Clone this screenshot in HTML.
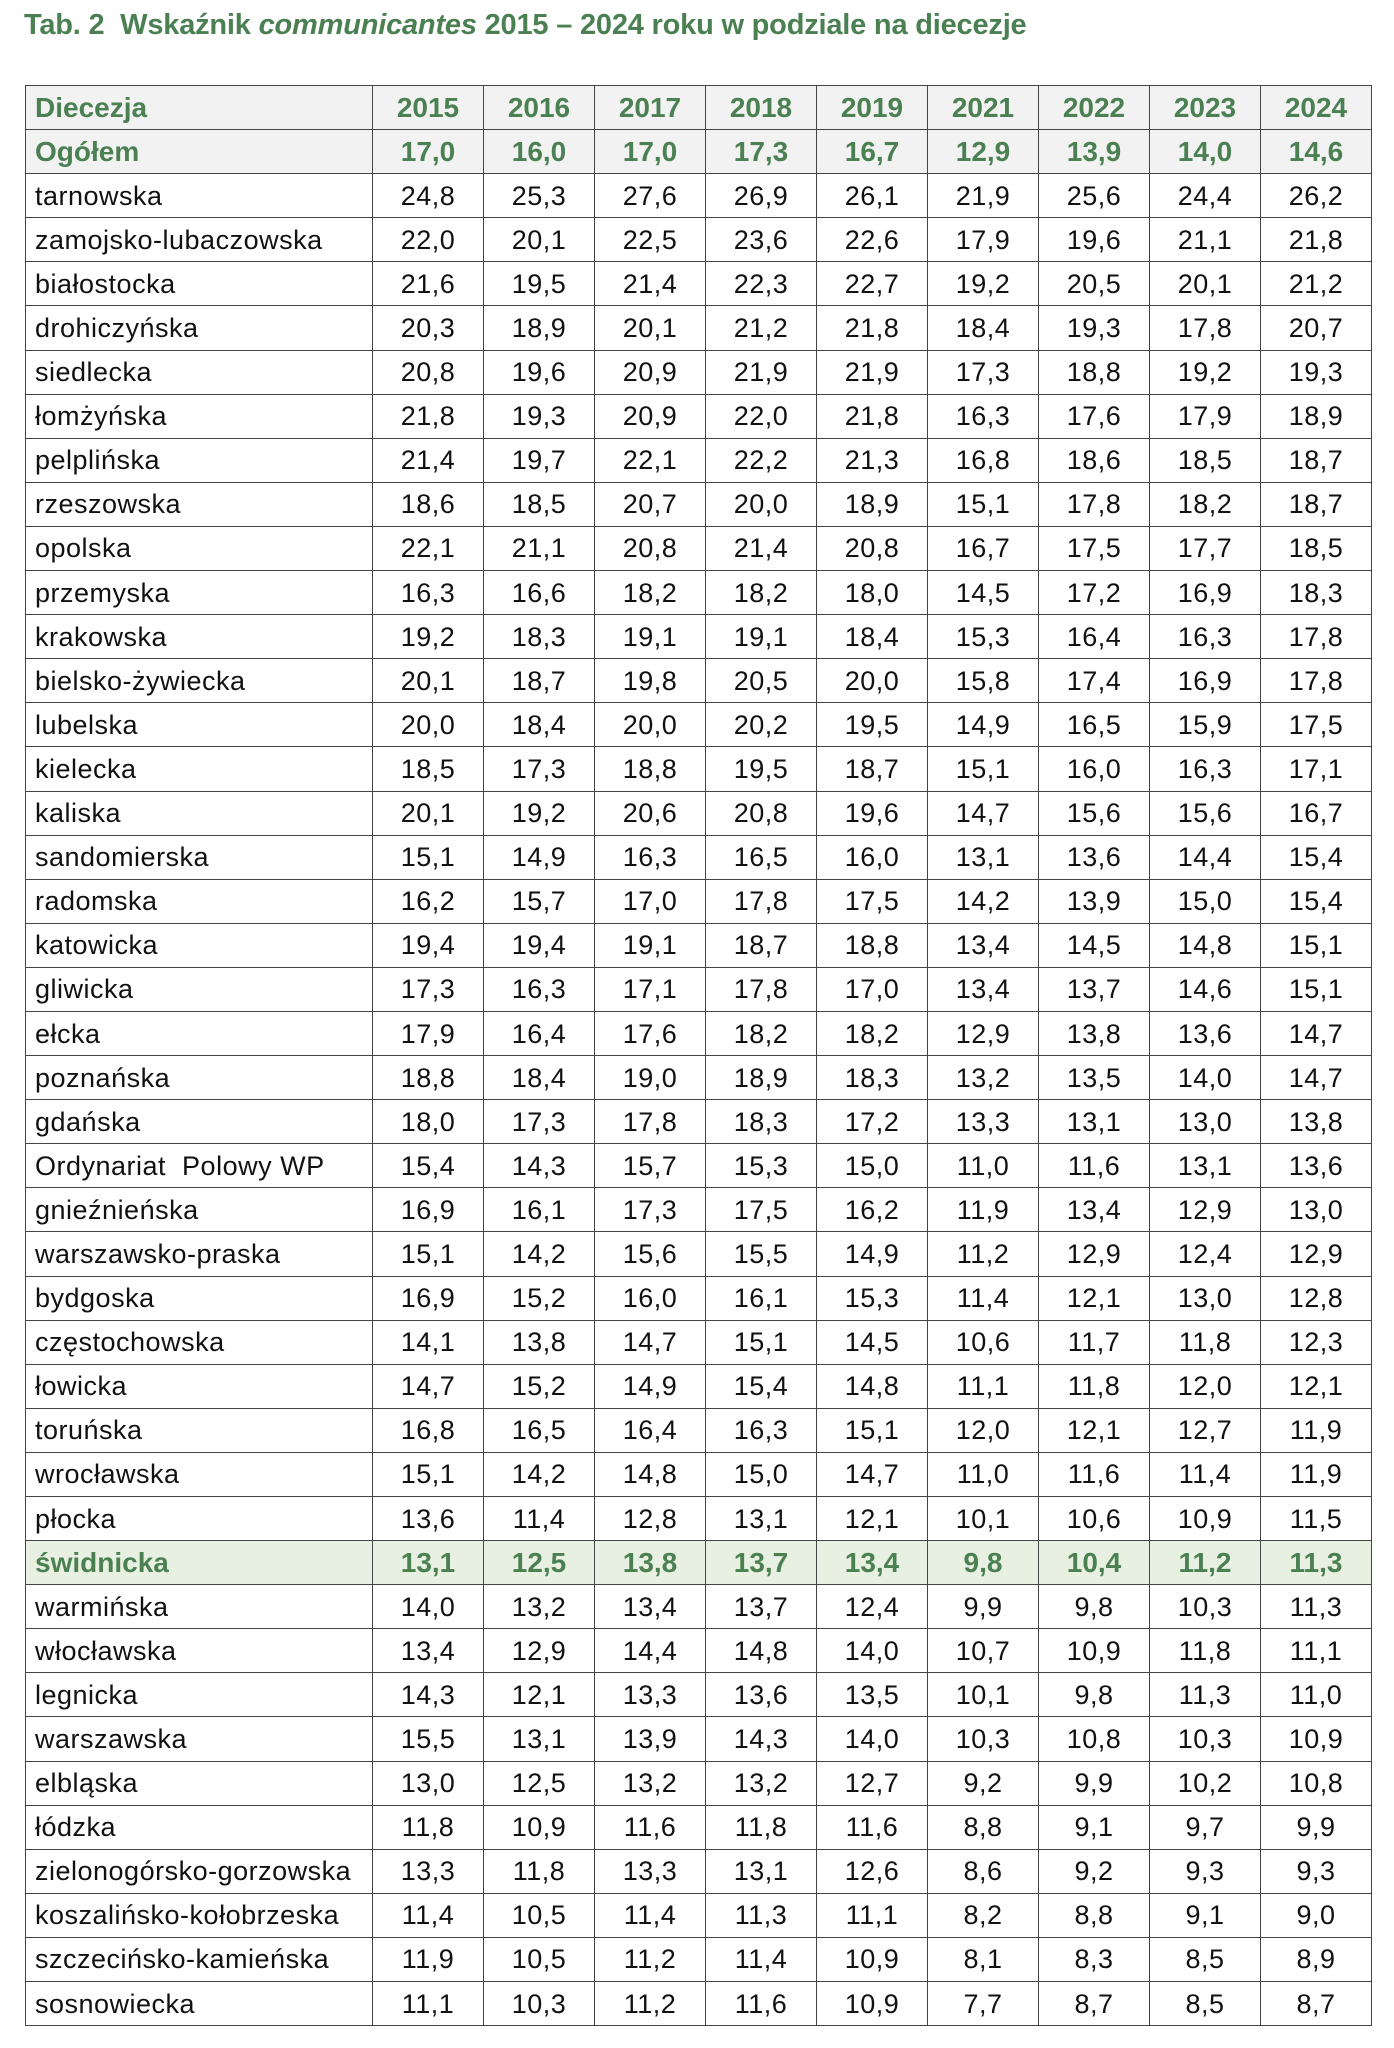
<!DOCTYPE html>
<html><head><meta charset="utf-8">
<style>
body{margin:0;width:1394px;height:2048px;background:#fff;font-family:"Liberation Sans",sans-serif;position:relative;overflow:hidden}
h1{position:absolute;left:24px;top:9px;margin:0;font-size:29px;font-weight:bold;color:#4a8052;white-space:nowrap;letter-spacing:-0.2px}
table{position:absolute;left:25px;top:85px;border-collapse:collapse;table-layout:fixed;width:1346px}
td{border:1.5px solid #444;height:43.1px;padding:0;font-size:27px;letter-spacing:0.5px;text-align:center;color:#111;line-height:42px;white-space:nowrap}
td:first-child{text-align:left;padding-left:9px}
tr.g td{background:#f2f2f2;color:#4a8052;font-weight:bold;letter-spacing:0;font-size:28px}
tr.s td{background:#e8f0e1;color:#4a8052;font-weight:bold;letter-spacing:0;font-size:28px}
</style></head><body>
<h1>Tab. 2&nbsp; Wskaźnik <i>communicantes</i> 2015 – 2024 roku w podziale na diecezje</h1>
<table>
<colgroup><col style="width:347px"><col span="9" style="width:111px"></colgroup>
<tr class="g"><td>Diecezja</td><td>2015</td><td>2016</td><td>2017</td><td>2018</td><td>2019</td><td>2021</td><td>2022</td><td>2023</td><td>2024</td></tr>
<tr class="g"><td>Ogółem</td><td>17,0</td><td>16,0</td><td>17,0</td><td>17,3</td><td>16,7</td><td>12,9</td><td>13,9</td><td>14,0</td><td>14,6</td></tr>
<tr><td>tarnowska</td><td>24,8</td><td>25,3</td><td>27,6</td><td>26,9</td><td>26,1</td><td>21,9</td><td>25,6</td><td>24,4</td><td>26,2</td></tr>
<tr><td>zamojsko-lubaczowska</td><td>22,0</td><td>20,1</td><td>22,5</td><td>23,6</td><td>22,6</td><td>17,9</td><td>19,6</td><td>21,1</td><td>21,8</td></tr>
<tr><td>białostocka</td><td>21,6</td><td>19,5</td><td>21,4</td><td>22,3</td><td>22,7</td><td>19,2</td><td>20,5</td><td>20,1</td><td>21,2</td></tr>
<tr><td>drohiczyńska</td><td>20,3</td><td>18,9</td><td>20,1</td><td>21,2</td><td>21,8</td><td>18,4</td><td>19,3</td><td>17,8</td><td>20,7</td></tr>
<tr><td>siedlecka</td><td>20,8</td><td>19,6</td><td>20,9</td><td>21,9</td><td>21,9</td><td>17,3</td><td>18,8</td><td>19,2</td><td>19,3</td></tr>
<tr><td>łomżyńska</td><td>21,8</td><td>19,3</td><td>20,9</td><td>22,0</td><td>21,8</td><td>16,3</td><td>17,6</td><td>17,9</td><td>18,9</td></tr>
<tr><td>pelplińska</td><td>21,4</td><td>19,7</td><td>22,1</td><td>22,2</td><td>21,3</td><td>16,8</td><td>18,6</td><td>18,5</td><td>18,7</td></tr>
<tr><td>rzeszowska</td><td>18,6</td><td>18,5</td><td>20,7</td><td>20,0</td><td>18,9</td><td>15,1</td><td>17,8</td><td>18,2</td><td>18,7</td></tr>
<tr><td>opolska</td><td>22,1</td><td>21,1</td><td>20,8</td><td>21,4</td><td>20,8</td><td>16,7</td><td>17,5</td><td>17,7</td><td>18,5</td></tr>
<tr><td>przemyska</td><td>16,3</td><td>16,6</td><td>18,2</td><td>18,2</td><td>18,0</td><td>14,5</td><td>17,2</td><td>16,9</td><td>18,3</td></tr>
<tr><td>krakowska</td><td>19,2</td><td>18,3</td><td>19,1</td><td>19,1</td><td>18,4</td><td>15,3</td><td>16,4</td><td>16,3</td><td>17,8</td></tr>
<tr><td>bielsko-żywiecka</td><td>20,1</td><td>18,7</td><td>19,8</td><td>20,5</td><td>20,0</td><td>15,8</td><td>17,4</td><td>16,9</td><td>17,8</td></tr>
<tr><td>lubelska</td><td>20,0</td><td>18,4</td><td>20,0</td><td>20,2</td><td>19,5</td><td>14,9</td><td>16,5</td><td>15,9</td><td>17,5</td></tr>
<tr><td>kielecka</td><td>18,5</td><td>17,3</td><td>18,8</td><td>19,5</td><td>18,7</td><td>15,1</td><td>16,0</td><td>16,3</td><td>17,1</td></tr>
<tr><td>kaliska</td><td>20,1</td><td>19,2</td><td>20,6</td><td>20,8</td><td>19,6</td><td>14,7</td><td>15,6</td><td>15,6</td><td>16,7</td></tr>
<tr><td>sandomierska</td><td>15,1</td><td>14,9</td><td>16,3</td><td>16,5</td><td>16,0</td><td>13,1</td><td>13,6</td><td>14,4</td><td>15,4</td></tr>
<tr><td>radomska</td><td>16,2</td><td>15,7</td><td>17,0</td><td>17,8</td><td>17,5</td><td>14,2</td><td>13,9</td><td>15,0</td><td>15,4</td></tr>
<tr><td>katowicka</td><td>19,4</td><td>19,4</td><td>19,1</td><td>18,7</td><td>18,8</td><td>13,4</td><td>14,5</td><td>14,8</td><td>15,1</td></tr>
<tr><td>gliwicka</td><td>17,3</td><td>16,3</td><td>17,1</td><td>17,8</td><td>17,0</td><td>13,4</td><td>13,7</td><td>14,6</td><td>15,1</td></tr>
<tr><td>ełcka</td><td>17,9</td><td>16,4</td><td>17,6</td><td>18,2</td><td>18,2</td><td>12,9</td><td>13,8</td><td>13,6</td><td>14,7</td></tr>
<tr><td>poznańska</td><td>18,8</td><td>18,4</td><td>19,0</td><td>18,9</td><td>18,3</td><td>13,2</td><td>13,5</td><td>14,0</td><td>14,7</td></tr>
<tr><td>gdańska</td><td>18,0</td><td>17,3</td><td>17,8</td><td>18,3</td><td>17,2</td><td>13,3</td><td>13,1</td><td>13,0</td><td>13,8</td></tr>
<tr><td>Ordynariat&nbsp; Polowy WP</td><td>15,4</td><td>14,3</td><td>15,7</td><td>15,3</td><td>15,0</td><td>11,0</td><td>11,6</td><td>13,1</td><td>13,6</td></tr>
<tr><td>gnieźnieńska</td><td>16,9</td><td>16,1</td><td>17,3</td><td>17,5</td><td>16,2</td><td>11,9</td><td>13,4</td><td>12,9</td><td>13,0</td></tr>
<tr><td>warszawsko-praska</td><td>15,1</td><td>14,2</td><td>15,6</td><td>15,5</td><td>14,9</td><td>11,2</td><td>12,9</td><td>12,4</td><td>12,9</td></tr>
<tr><td>bydgoska</td><td>16,9</td><td>15,2</td><td>16,0</td><td>16,1</td><td>15,3</td><td>11,4</td><td>12,1</td><td>13,0</td><td>12,8</td></tr>
<tr><td>częstochowska</td><td>14,1</td><td>13,8</td><td>14,7</td><td>15,1</td><td>14,5</td><td>10,6</td><td>11,7</td><td>11,8</td><td>12,3</td></tr>
<tr><td>łowicka</td><td>14,7</td><td>15,2</td><td>14,9</td><td>15,4</td><td>14,8</td><td>11,1</td><td>11,8</td><td>12,0</td><td>12,1</td></tr>
<tr><td>toruńska</td><td>16,8</td><td>16,5</td><td>16,4</td><td>16,3</td><td>15,1</td><td>12,0</td><td>12,1</td><td>12,7</td><td>11,9</td></tr>
<tr><td>wrocławska</td><td>15,1</td><td>14,2</td><td>14,8</td><td>15,0</td><td>14,7</td><td>11,0</td><td>11,6</td><td>11,4</td><td>11,9</td></tr>
<tr><td>płocka</td><td>13,6</td><td>11,4</td><td>12,8</td><td>13,1</td><td>12,1</td><td>10,1</td><td>10,6</td><td>10,9</td><td>11,5</td></tr>
<tr class="s"><td>świdnicka</td><td>13,1</td><td>12,5</td><td>13,8</td><td>13,7</td><td>13,4</td><td>9,8</td><td>10,4</td><td>11,2</td><td>11,3</td></tr>
<tr><td>warmińska</td><td>14,0</td><td>13,2</td><td>13,4</td><td>13,7</td><td>12,4</td><td>9,9</td><td>9,8</td><td>10,3</td><td>11,3</td></tr>
<tr><td>włocławska</td><td>13,4</td><td>12,9</td><td>14,4</td><td>14,8</td><td>14,0</td><td>10,7</td><td>10,9</td><td>11,8</td><td>11,1</td></tr>
<tr><td>legnicka</td><td>14,3</td><td>12,1</td><td>13,3</td><td>13,6</td><td>13,5</td><td>10,1</td><td>9,8</td><td>11,3</td><td>11,0</td></tr>
<tr><td>warszawska</td><td>15,5</td><td>13,1</td><td>13,9</td><td>14,3</td><td>14,0</td><td>10,3</td><td>10,8</td><td>10,3</td><td>10,9</td></tr>
<tr><td>elbląska</td><td>13,0</td><td>12,5</td><td>13,2</td><td>13,2</td><td>12,7</td><td>9,2</td><td>9,9</td><td>10,2</td><td>10,8</td></tr>
<tr><td>łódzka</td><td>11,8</td><td>10,9</td><td>11,6</td><td>11,8</td><td>11,6</td><td>8,8</td><td>9,1</td><td>9,7</td><td>9,9</td></tr>
<tr><td>zielonogórsko-gorzowska</td><td>13,3</td><td>11,8</td><td>13,3</td><td>13,1</td><td>12,6</td><td>8,6</td><td>9,2</td><td>9,3</td><td>9,3</td></tr>
<tr><td>koszalińsko-kołobrzeska</td><td>11,4</td><td>10,5</td><td>11,4</td><td>11,3</td><td>11,1</td><td>8,2</td><td>8,8</td><td>9,1</td><td>9,0</td></tr>
<tr><td>szczecińsko-kamieńska</td><td>11,9</td><td>10,5</td><td>11,2</td><td>11,4</td><td>10,9</td><td>8,1</td><td>8,3</td><td>8,5</td><td>8,9</td></tr>
<tr><td>sosnowiecka</td><td>11,1</td><td>10,3</td><td>11,2</td><td>11,6</td><td>10,9</td><td>7,7</td><td>8,7</td><td>8,5</td><td>8,7</td></tr>
</table>
</body></html>
